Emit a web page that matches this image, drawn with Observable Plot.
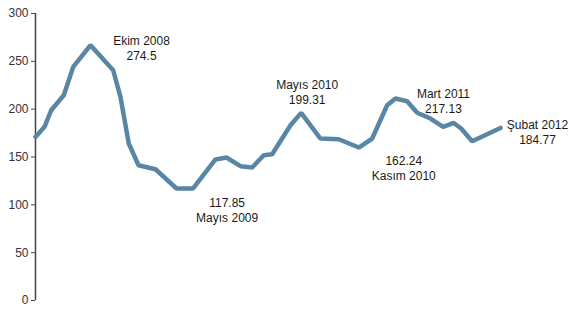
<!DOCTYPE html>
<html>
<head>
<meta charset="utf-8">
<script src="https://cdn.jsdelivr.net/npm/d3@7"></script>
<script src="https://cdn.jsdelivr.net/npm/@observablehq/plot@0.6"></script>
<style>
  html, body { margin: 0; padding: 0; background: #fff; }
  #chart svg { display: block; }
</style>
</head>
<body>
<div id="chart"></div>
<script>
// Estimated time position (months from start) and values
const months = [0, 0.88, 1.53, 2.76, 3.68, 5.37, 7.58, 8.29, 9.10, 10.05, 11.71, 13.76, 15.38,
  17.56, 18.63, 20.0, 21.14, 22.27, 23.09, 24.88, 25.92, 27.80, 29.59, 31.54, 32.85, 34.31,
  35.12, 36.26, 37.24, 38.54, 39.77, 40.81, 41.53, 42.60, 45.37];
const values = [171.0, 181.5, 198.9, 214.6, 244.2, 266.9, 240.7, 212.8, 164.1, 141.4, 137.2, 117.1, 117.1,
  147.4, 149.5, 140.4, 139.0, 151.9, 152.9, 183.2, 196.1, 169.3, 168.6, 159.9, 169.3, 204.1,
  211.1, 208.3, 196.3, 190.2, 181.5, 185.6, 179.8, 166.5, 180.4];
const yTicks = [0, 50, 100, 150, 200, 250, 300];

// Annotations: label lines and the index of the point they refer to
const annLabels = [
  ["Ekim 2008", "274.5"],
  ["117.85", "Mayıs 2009"],
  ["Mayıs 2010", "199.31"],
  ["162.24", "Kasım 2010"],
  ["Mart 2011", "217.13"],
  ["Şubat 2012", "184.77"]
];
const annPoint = [5, 12, 20, 23, 26, 34];

const data = months.map((m, i) => ({t: m, v: values[i]}));

// label placement offsets (px) relative to the referenced point
const annOffset = [[51, -10.5], [34, 8.2], [6, -34.2], [45, 7.2], [48, -10.8], [37, -9.5]];

const annMarks = annLabels.map((lines, i) => {
  const p = data[annPoint[i]];
  return Plot.text([p], {
    x: "t", y: "v",
    text: () => lines.join("\n"),
    dx: annOffset[i][0], dy: annOffset[i][1],
    textAnchor: "middle", lineAnchor: "top", lineHeight: 1.25,
    fontSize: 12, fill: "#1a1a1a"
  });
});

const chart = Plot.plot({
  width: 569,
  height: 309,
  marginLeft: 35,
  marginRight: 69,
  marginTop: 13,
  marginBottom: 9,
  style: {fontFamily: "'Liberation Sans', Arial, Helvetica, sans-serif", fontSize: "12px", background: "#fff"},
  x: {domain: [0, 45.37], axis: null},
  y: {domain: [0, 300]},
  marks: [
    Plot.axisY({ticks: yTicks, tickSize: 4, tickPadding: 3, stroke: "#444", fill: "#333", fontSize: 12, label: null}),
    Plot.ruleX([0], {y1: 0, y2: 300, stroke: "#444", strokeWidth: 1.5}),
    Plot.line(data, {x: "t", y: "v", stroke: "#5a86a5", strokeWidth: 4.5, strokeLinejoin: "miter"}),
    ...annMarks
  ]
});
document.getElementById("chart").appendChild(chart);
</script>
</body>
</html>
